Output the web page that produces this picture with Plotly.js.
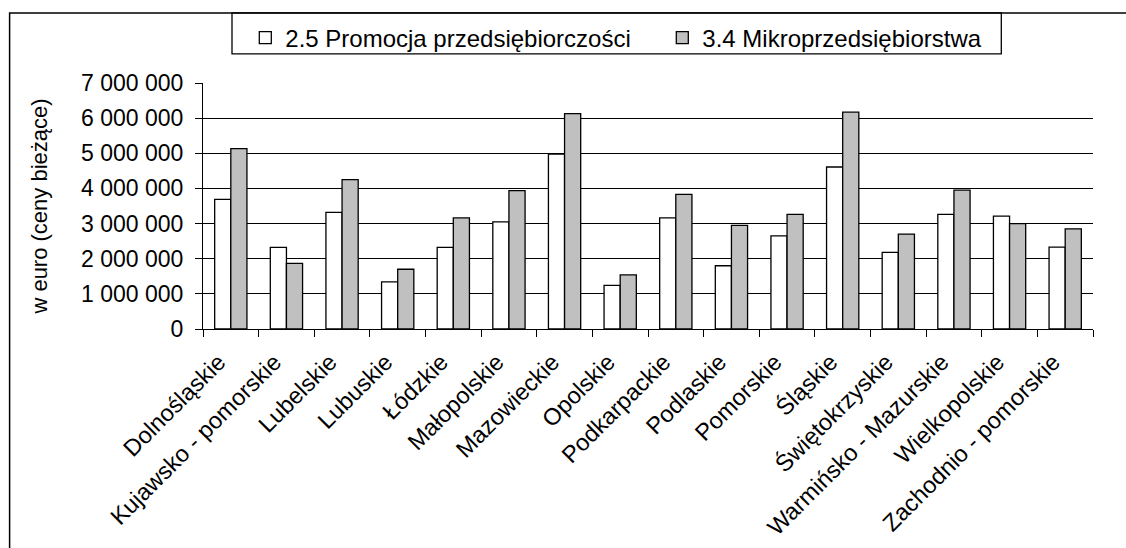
<!DOCTYPE html>
<html>
<head>
<meta charset="utf-8">
<script src="https://cdn.plot.ly/plotly-3.0.1.min.js"></script>
<style>
html,body{margin:0;padding:0;background:#fff;}
#chart{width:1126px;height:548px;}
</style>
</head>
<body>
<div id="chart"></div>
<script>
const categories = ["Dolnośląskie","Kujawsko - pomorskie","Lubelskie","Lubuskie","Łódzkie","Małopolskie","Mazowieckie","Opolskie","Podkarpackie","Podlaskie","Pomorskie","Śląskie","Świętokrzyskie","Warmińsko - Mazurskie","Wielkopolskie","Zachodnio - pomorskie"];
const promocja = [3690000,2320000,3320000,1340000,2320000,3050000,4980000,1240000,3160000,1800000,2650000,4610000,2180000,3260000,3210000,2330000];
const mikro = [5130000,1870000,4250000,1700000,3160000,3940000,6130000,1540000,3830000,2950000,3260000,6170000,2700000,3950000,3000000,2850000];
const seriesNames = ["2.5 Promocja przedsiębiorczości","3.4 Mikroprzedsiębiorstwa"];
const yTickVals = [0,1000000,2000000,3000000,4000000,5000000,6000000,7000000];

const fam = "Liberation Sans, Arial, sans-serif";
const font = {family:fam, size:23, color:"#000"};
const xfont = {family:fam, size:23.5, color:"#000"};
const lfont = {family:fam, size:24, color:"#000"};
const tfont = {family:fam, size:22, color:"#000"};

const traces = [
  {type:"bar", name:seriesNames[0], x:categories, y:promocja,
   marker:{color:"#ffffff", line:{color:"#000", width:1.3}}},
  {type:"bar", name:seriesNames[1], x:categories, y:mikro,
   marker:{color:"#c0c0c0", line:{color:"#000", width:1.3}}}
];

const L = 202.7, R = 1092.7, T = 83.3, B = 329;
const W = R - L, H = B - T;
const px = v => (v - L) / W;
const py = v => (B - v) / H;

const layout = {
  width:1126, height:548,
  margin:{l:L, r:1126-R, t:T, b:548-B, pad:0},
  paper_bgcolor:"#fff", plot_bgcolor:"#fff",
  font:font,
  separators:", ",
  barmode:"group", bargap:0.42, bargroupgap:0,
  showlegend:true,
  legend:{orientation:"h", x:px(245), y:py(16), xanchor:"left", yanchor:"top",
    borderwidth:0, bgcolor:"rgba(0,0,0,0)", font:lfont,
    entrywidth:372, entrywidthmode:"pixels", traceorder:"normal"},
  xaxis:{type:"category", tickson:"boundaries", ticks:"outside", ticklen:7, tickcolor:"#000", tickwidth:1,
    showline:true, linecolor:"#000", linewidth:1, tickangle:-45, tickfont:xfont,
    ticklabelstandoff:9, ticklabelshift:-12,
    showgrid:false, automargin:false, fixedrange:true},
  yaxis:{range:[0,7000000], tickvals:yTickVals, tickformat:",d", ticks:"outside", ticklen:7, tickcolor:"#000", tickwidth:1,
    showline:true, linecolor:"#000", linewidth:1, showgrid:true, gridcolor:"#000", gridwidth:1,
    zeroline:false, tickfont:font, automargin:false, ticklabelstandoff:7,
    title:{text:"w euro (ceny bieżące)", font:tfont, standoff:27}},
  shapes:[
    {type:"rect", xref:"paper", yref:"paper", x0:px(9.3), x1:px(1140), y0:py(13.3), y1:py(560),
     line:{color:"#000", width:1.5}, fillcolor:"rgba(0,0,0,0)", layer:"below"},
    {type:"rect", xref:"paper", yref:"paper", x0:px(231.7), x1:px(1001), y0:py(13.3), y1:py(54.3),
     line:{color:"#000", width:1.3}, fillcolor:"rgba(0,0,0,0)", layer:"above"}
  ]
};

Plotly.newPlot("chart", traces, layout, {displayModeBar:false, staticPlot:true});
</script>
</body>
</html>
